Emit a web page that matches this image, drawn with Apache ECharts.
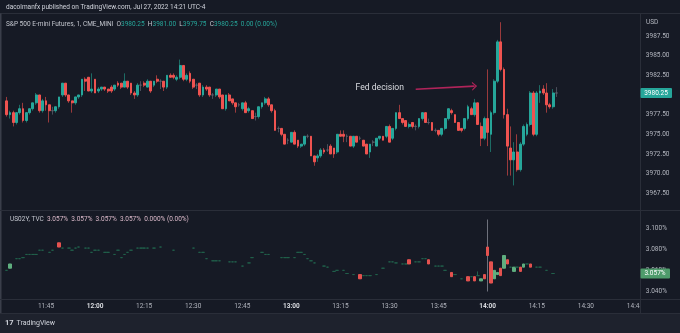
<!DOCTYPE html>
<html>
<head>
<meta charset="utf-8">
<script src="https://cdn.jsdelivr.net/npm/echarts@6/dist/echarts.min.js"></script>
<style>
  html, body { margin: 0; padding: 0; background: #161a25; }
  #chart { width: 680px; height: 333px; }
</style>
</head>
<body>
<div id="chart"></div>
<script>
// One-minute slots shown on the time axis (11:32 .. 14:46)
const startMinute = 11 * 60 + 32;
const slotCount = 195;
const firstBar = 1; // first ES bar is 11:33

// S&P 500 E-mini futures, 1-minute bars 11:33 .. 14:21
const esOpen = [
  3979.25,3977.5,3977.75,3976.5,3977.75,3978.25,3976.75,3977.75,3978.25,3979.0,
  3980.0,3978.0,3979.25,3978.75,3978.0,3978.0,3978.5,3980.0,3981.5,3980.0,
  3979.25,3979.0,3979.75,3980.0,3982.0,3982.25,3980.5,3982.0,3980.5,3980.75,
  3981.0,3980.75,3981.0,3980.75,3981.5,3981.5,3981.0,3981.75,3981.5,3980.25,
  3980.0,3981.25,3981.5,3981.0,3981.75,3981.25,3982.0,3981.75,3981.75,3981.0,
  3982.5,3982.5,3982.0,3982.25,3983.75,3982.0,3982.75,3982.0,3981.25,3981.5,
  3980.0,3981.0,3981.0,3980.0,3980.0,3980.75,3980.0,3978.25,3980.0,3979.5,
  3979.0,3978.75,3978.25,3979.0,3978.0,3978.0,3977.25,3977.25,3978.5,3979.0,
  3979.5,3978.75,3978.0,3975.75,3975.75,3975.0,3974.25,3974.0,3975.25,3974.25,
  3973.5,3973.75,3974.75,3974.75,3972.25,3972.0,3972.25,3973.0,3973.0,3973.5,
  3973.25,3972.75,3975.0,3975.0,3974.75,3974.75,3973.5,3974.75,3974.5,3974.25,
  3973.75,3972.75,3974.0,3973.5,3974.5,3974.75,3974.75,3976.0,3974.5,3975.75,
  3977.75,3977.0,3976.75,3976.0,3976.5,3976.0,3976.0,3977.0,3977.75,3976.5,
  3976.5,3975.5,3975.5,3975.0,3975.75,3977.0,3978.0,3977.5,3976.5,3975.75,
  3975.75,3977.0,3978.25,3977.5,3979.0,3976.0,3974.5,3977.0,3975.0,3977.75,
  3981.75,3986.75,3983.25,3977.5,3973.25,3971.75,3972.75,3970.5,3973.75,3975.0,
  3976.25,3980.25,3975.0,3980.25,3980.75,3980.25,3978.75,3978.5,3980.25
];
const esHigh = [
  3979.75,3978.0,3978.0,3977.75,3978.75,3979.0,3977.75,3978.25,3979.0,3980.25,
  3980.0,3979.5,3979.75,3978.75,3978.5,3978.5,3979.75,3981.5,3981.5,3980.0,
  3979.25,3979.75,3980.0,3982.0,3982.25,3982.25,3982.75,3982.0,3981.0,3981.0,
  3981.0,3980.75,3981.25,3981.25,3981.75,3981.5,3982.75,3981.75,3981.5,3980.5,
  3981.5,3981.75,3981.75,3982.0,3981.75,3981.75,3982.5,3982.0,3981.75,3982.5,
  3982.75,3982.75,3982.5,3984.5,3983.75,3982.75,3983.0,3982.0,3981.5,3981.5,
  3981.25,3981.25,3981.0,3980.25,3980.75,3980.75,3980.0,3980.0,3980.25,3979.5,
  3979.0,3979.0,3979.0,3979.25,3978.5,3978.0,3977.75,3978.5,3979.0,3979.75,
  3979.75,3978.75,3978.25,3976.0,3975.75,3975.0,3974.5,3975.25,3975.5,3974.25,
  3973.75,3974.75,3975.0,3974.75,3972.25,3972.5,3973.25,3973.25,3973.75,3973.75,
  3973.25,3975.0,3975.5,3975.5,3975.0,3974.75,3974.75,3974.75,3974.75,3974.25,
  3973.75,3973.75,3974.25,3974.5,3974.75,3974.75,3976.0,3976.25,3975.75,3977.75,
  3978.75,3977.0,3976.75,3976.5,3976.5,3976.25,3977.0,3977.75,3977.75,3977.0,
  3976.5,3975.75,3975.5,3975.75,3977.0,3978.25,3978.25,3977.5,3976.5,3975.75,
  3977.0,3978.75,3978.5,3979.5,3979.0,3976.5,3977.25,3983.25,3978.0,3982.0,
  3987.0,3989.25,3983.5,3978.25,3976.0,3974.0,3975.0,3974.0,3976.25,3976.5,
  3980.5,3980.5,3980.5,3981.25,3981.25,3981.5,3979.0,3980.75,3981.0
];
const esLow = [
  3977.25,3977.0,3976.0,3976.25,3977.5,3976.5,3976.5,3977.5,3978.0,3978.75,
  3977.75,3977.75,3978.0,3976.5,3977.5,3977.75,3978.25,3979.75,3979.75,3979.0,
  3977.75,3978.75,3979.5,3979.75,3980.5,3980.5,3980.25,3980.25,3980.25,3980.5,
  3980.5,3980.25,3980.25,3980.5,3981.0,3980.75,3981.0,3980.75,3980.0,3979.5,
  3979.75,3980.5,3981.0,3981.0,3980.25,3981.0,3981.5,3980.75,3980.5,3980.75,
  3982.25,3982.0,3981.75,3982.0,3981.75,3981.75,3981.5,3980.75,3980.75,3979.75,
  3979.75,3980.5,3979.75,3979.5,3979.75,3979.5,3978.25,3978.0,3979.25,3978.75,
  3977.75,3978.5,3978.0,3977.75,3977.75,3977.0,3976.75,3977.0,3978.25,3978.75,
  3978.5,3977.75,3975.5,3975.25,3974.75,3973.75,3973.75,3974.0,3973.75,3973.25,
  3973.25,3973.5,3974.5,3972.25,3971.0,3971.5,3972.0,3972.5,3972.75,3972.5,
  3972.0,3972.5,3974.75,3974.0,3974.0,3973.5,3973.25,3974.0,3974.25,3973.5,
  3972.5,3972.0,3973.5,3973.5,3974.25,3974.25,3974.5,3974.0,3974.25,3975.5,
  3977.0,3976.25,3976.0,3975.75,3975.75,3975.5,3975.75,3976.75,3976.5,3976.25,
  3975.5,3975.25,3974.75,3974.75,3975.5,3976.75,3977.5,3976.5,3975.5,3975.25,
  3975.5,3976.75,3977.5,3977.25,3976.25,3973.5,3974.25,3973.5,3972.75,3977.5,
  3981.5,3983.0,3977.0,3969.75,3969.75,3968.5,3970.25,3970.25,3973.5,3974.75,
  3976.0,3974.75,3974.75,3979.0,3980.0,3977.75,3978.25,3978.25,3979.75
];
const esClose = [
  3977.5,3977.75,3976.5,3977.75,3978.25,3976.75,3977.75,3978.25,3979.0,3980.0,
  3978.0,3979.25,3978.75,3978.0,3978.0,3978.5,3979.75,3981.5,3980.0,3979.25,
  3979.0,3979.75,3980.0,3982.0,3981.75,3980.5,3980.75,3980.25,3980.75,3981.0,
  3980.75,3980.5,3980.5,3981.25,3981.25,3981.0,3981.75,3981.0,3980.25,3980.0,
  3981.25,3981.25,3981.25,3981.75,3980.5,3981.75,3981.75,3981.75,3981.0,3982.5,
  3982.25,3982.25,3982.25,3983.75,3982.0,3982.5,3981.75,3981.0,3981.25,3980.0,
  3981.0,3980.75,3980.0,3980.0,3980.75,3979.75,3978.25,3980.0,3979.25,3979.0,
  3978.5,3978.75,3979.0,3977.75,3978.25,3977.0,3977.25,3978.5,3979.0,3979.5,
  3978.75,3978.0,3975.5,3975.75,3975.0,3973.75,3974.25,3975.25,3973.75,3973.5,
  3973.75,3974.75,3974.75,3972.25,3971.5,3972.25,3973.0,3972.75,3973.0,3972.5,
  3972.5,3975.0,3974.75,3974.75,3974.75,3973.5,3974.75,3974.0,3974.5,3973.5,
  3972.5,3973.75,3974.0,3974.5,3974.75,3974.25,3976.0,3974.0,3975.75,3977.75,
  3977.0,3976.5,3976.0,3976.25,3976.0,3976.0,3977.0,3977.75,3976.5,3976.5,
  3975.5,3975.5,3975.0,3975.75,3977.0,3978.25,3977.75,3976.5,3975.5,3975.5,
  3977.0,3978.5,3977.5,3979.0,3976.25,3974.5,3977.0,3975.25,3977.75,3981.75,
  3986.75,3983.25,3977.5,3973.5,3971.75,3972.75,3970.5,3973.75,3976.0,3976.25,
  3980.25,3975.0,3980.25,3980.5,3980.25,3978.75,3978.5,3980.25,3980.25
];

// US 2-year yield (%), 1-minute bars 11:33 .. 14:21, null where no trade
const ylOpen = [
  3.060,3.062,null,3.071,3.071,3.072,3.075,3.075,3.075,3.075,
  3.079,3.079,null,3.077,3.079,null,3.086,3.081,null,3.081,
  3.079,3.081,3.082,null,3.081,3.081,3.077,3.079,3.079,null,
  3.077,3.077,null,3.075,3.079,3.072,3.075,3.077,3.079,null,
  3.081,3.081,3.081,3.081,null,3.081,null,3.082,null,null,
  null,3.079,null,null,null,null,null,3.081,null,3.077,
  3.077,3.071,null,3.069,3.069,3.069,null,null,3.068,3.068,
  3.068,null,3.064,null,3.067,3.072,null,null,3.077,3.075,
  3.075,null,null,null,3.072,3.072,3.072,null,3.072,3.077,
  3.077,3.075,3.071,3.069,3.067,null,null,3.064,3.063,null,
  3.059,3.060,null,3.060,3.057,null,3.056,null,3.056,3.055,
  3.055,3.055,null,3.056,null,3.062,null,3.068,3.068,3.067,
  null,3.066,3.066,3.070,null,3.068,3.068,3.071,3.071,3.070,
  null,3.064,3.064,3.064,3.060,null,3.058,3.056,null,3.052,
  null,3.054,3.054,3.054,3.055,3.050,3.056,3.082,3.068,3.052,
  3.056,3.062,3.062,3.070,3.063,3.059,3.063,3.063,3.063,3.066,
  3.066,null,3.063,3.063,null,3.060,null,3.057,null
];
const ylHigh = [
  3.060,3.066,null,3.071,3.071,3.072,3.075,3.075,3.075,3.075,
  3.079,3.079,null,3.077,3.079,null,3.086,3.081,null,3.081,
  3.079,3.081,3.082,null,3.081,3.081,3.077,3.079,3.079,null,
  3.077,3.077,null,3.075,3.079,3.072,3.075,3.077,3.079,null,
  3.081,3.081,3.081,3.081,null,3.081,null,3.082,null,null,
  null,3.079,null,null,null,null,null,3.081,null,3.077,
  3.077,3.071,null,3.069,3.069,3.069,null,null,3.068,3.068,
  3.068,null,3.064,null,3.067,3.072,null,null,3.077,3.075,
  3.075,null,null,null,3.072,3.072,3.072,null,3.072,3.077,
  3.077,3.075,3.071,3.069,3.067,null,null,3.064,3.063,null,
  3.059,3.060,null,3.060,3.057,null,3.056,null,3.056,3.055,
  3.055,3.055,null,3.056,null,3.062,null,3.068,3.068,3.067,
  null,3.066,3.066,3.070,null,3.068,3.068,3.071,3.071,3.070,
  null,3.064,3.064,3.064,3.060,null,3.058,3.056,null,3.052,
  null,3.054,3.054,3.054,3.059,3.052,3.056,3.108,3.068,3.060,
  3.058,3.062,3.074,3.070,3.063,3.063,3.063,3.063,3.066,3.066,
  3.066,null,3.063,3.063,null,3.060,null,3.057,null
];
const ylLow = [
  3.060,3.062,null,3.071,3.071,3.072,3.075,3.075,3.075,3.075,
  3.079,3.079,null,3.077,3.079,null,3.082,3.081,null,3.081,
  3.079,3.081,3.082,null,3.081,3.081,3.077,3.079,3.079,null,
  3.077,3.077,null,3.075,3.079,3.072,3.075,3.077,3.079,null,
  3.081,3.081,3.081,3.081,null,3.081,null,3.082,null,null,
  null,3.079,null,null,null,null,null,3.081,null,3.077,
  3.077,3.071,null,3.069,3.069,3.069,null,null,3.068,3.068,
  3.068,null,3.064,null,3.067,3.072,null,null,3.077,3.075,
  3.075,null,null,null,3.072,3.072,3.072,null,3.072,3.077,
  3.077,3.075,3.071,3.069,3.067,null,null,3.064,3.063,null,
  3.059,3.060,null,3.060,3.057,null,3.056,null,3.052,3.055,
  3.055,3.055,null,3.056,null,3.062,null,3.068,3.068,3.067,
  null,3.066,3.066,3.066,null,3.068,3.068,3.071,3.071,3.066,
  null,3.064,3.064,3.064,3.060,null,3.054,3.056,null,3.052,
  null,3.050,3.054,3.050,3.055,3.050,3.052,3.040,3.048,3.052,
  3.056,3.055,3.062,3.066,3.063,3.059,3.063,3.059,3.063,3.066,
  3.063,null,3.063,3.063,null,3.060,null,3.057,null
];
const ylClose = [
  3.060,3.066,null,3.071,3.071,3.072,3.075,3.075,3.075,3.075,
  3.079,3.079,null,3.077,3.079,null,3.082,3.081,null,3.081,
  3.079,3.081,3.082,null,3.081,3.081,3.077,3.079,3.079,null,
  3.077,3.077,null,3.075,3.079,3.072,3.075,3.077,3.079,null,
  3.081,3.081,3.081,3.081,null,3.081,null,3.082,null,null,
  null,3.079,null,null,null,null,null,3.081,null,3.077,
  3.077,3.071,null,3.069,3.069,3.069,null,null,3.068,3.068,
  3.068,null,3.064,null,3.067,3.072,null,null,3.077,3.075,
  3.075,null,null,null,3.072,3.072,3.072,null,3.072,3.077,
  3.077,3.075,3.071,3.069,3.067,null,null,3.064,3.063,null,
  3.059,3.060,null,3.060,3.057,null,3.056,null,3.052,3.055,
  3.055,3.055,null,3.056,null,3.062,null,3.068,3.068,3.067,
  null,3.066,3.066,3.066,null,3.068,3.068,3.071,3.071,3.066,
  null,3.064,3.064,3.064,3.060,null,3.054,3.056,null,3.052,
  null,3.050,3.054,3.050,3.055,3.052,3.052,3.074,3.048,3.060,
  3.058,3.055,3.074,3.066,3.063,3.063,3.063,3.059,3.066,3.066,
  3.063,null,3.063,3.063,null,3.060,null,3.057,null
];

// Price-axis and time-axis styling
const priceTicks = { min: 3965, max: 3990, step: 2.5 };
const yieldTicks = { min: 3.03, max: 3.12, step: 0.01 };

const BG = '#161a25';
const LINE = '#2a2e39';
const TEXT = '#b2b5be';
const UP = '#26a69a', DOWN = '#ef5350';
const UP_WICK = '#1d6b64', DOWN_WICK = '#9a3a3c';
const Y_UP = '#5fae7f', Y_DOWN = '#e4524f', Y_FLAT = '#21604b';

const categories = [];
for (let i = 0; i < slotCount; i++) {
  const m = startMinute + i;
  categories.push(String(Math.floor(m / 60)).padStart(2, '0') + ':' + String(m % 60).padStart(2, '0'));
}

const EMPTY = ['-', '-', '-', '-'];
function build(open, high, low, close, bodyOnly) {
  return categories.map((c, i) => {
    const j = i - firstBar;
    if (j < 0 || j >= open.length || open[j] == null) return EMPTY;
    const o = open[j], cl = close[j];
    if (bodyOnly) return [o, cl, Math.min(o, cl), Math.max(o, cl)];
    return [o, cl, low[j], high[j]];
  });
}

const mainWick = build(esOpen, esHigh, esLow, esClose, false);
const mainBody = build(esOpen, esHigh, esLow, esClose, true);
const yWick = build(ylOpen, ylHigh, ylLow, ylClose, false);
const yBody = build(ylOpen, ylHigh, ylLow, ylClose, true);

const lastIdx = esClose.length - 1;
const fmt2 = v => v.toFixed(2);
let lastYield = null;
for (let j = ylClose.length - 1; j >= 0; j--) { if (ylClose[j] != null) { lastYield = ylClose[j]; break; } }

const gridLeft = 1.8, gridWidth = 638.04;

const chart = echarts.init(document.getElementById('chart'), null, { renderer: 'canvas' });

const option = {
  backgroundColor: BG,
  animation: false,
  textStyle: { fontFamily: 'Roboto, "Noto Sans", sans-serif' },
  grid: [
    { left: gridLeft, width: gridWidth, top: 16.3, height: 196.66 },
    { left: gridLeft, width: gridWidth, top: 206.8, height: 95.3 }
  ],
  xAxis: [
    {
      type: 'category', data: categories, gridIndex: 0, boundaryGap: true,
      axisLine: { show: false }, axisTick: { show: false }, axisLabel: { show: false },
      splitLine: { show: false }
    },
    {
      type: 'category', data: categories, gridIndex: 1, boundaryGap: true,
      axisLine: { show: false }, axisTick: { show: false },
      axisLabel: {
        show: true, color: TEXT, fontSize: 6.5, margin: 4, verticalAlign: 'middle',
        interval: (idx, val) => parseInt(val.slice(3), 10) % 15 === 0,
        formatter: val => val.endsWith(':00') ? '{b|' + val + '}' : val,
        rich: { b: { fontWeight: 'bold', color: '#d9dbe0', fontSize: 6.5 } }
      },
      splitLine: { show: false }
    }
  ],
  yAxis: [
    {
      type: 'value', gridIndex: 0, position: 'right', scale: true,
      min: priceTicks.min, max: priceTicks.max, interval: priceTicks.step,
      axisLine: { show: false }, axisTick: { show: false }, splitLine: { show: false },
      axisLabel: {
        color: TEXT, fontSize: 6.5, margin: 6,
        formatter: v => (v <= priceTicks.min || v >= priceTicks.max) ? '' : v.toFixed(2)
      }
    },
    {
      type: 'value', gridIndex: 1, position: 'right', scale: true,
      min: yieldTicks.min, max: yieldTicks.max, interval: yieldTicks.step,
      axisLine: { show: false }, axisTick: { show: false }, splitLine: { show: false },
      axisLabel: {
        color: TEXT, fontSize: 6.5, margin: 6,
        formatter: v => {
          const t = Math.round(v * 1000);
          return (t % 20 === 0 && t >= 3040 && t <= 3100) ? (t / 1000).toFixed(3) + '%' : '';
        }
      }
    }
  ],
  series: [
    {
      name: 'ES wicks', type: 'candlestick', xAxisIndex: 0, yAxisIndex: 0,
      data: mainWick, barWidth: 1,
      itemStyle: { color: UP_WICK, color0: DOWN_WICK, borderColor: UP_WICK, borderColor0: DOWN_WICK, borderColorDoji: '#4a4e5a', borderWidth: 1 }
    },
    {
      name: 'ES', type: 'candlestick', xAxisIndex: 0, yAxisIndex: 0,
      data: mainBody, barWidth: '70%',
      itemStyle: { color: UP, color0: DOWN, borderColor: UP, borderColor0: DOWN, borderColorDoji: '#5b5f6b', borderWidth: 1 },
      markPoint: {
        silent: true, symbol: 'circle', symbolSize: 0,
        data: [{ coord: ['13:27', 3980.85], label: { show: true, position: 'inside', formatter: 'Fed decision', color: '#d9dbe0', fontSize: 8.6 } }]
      },
      markLine: {
        silent: true,
        symbol: ['none', 'path://M0,10 L5,0 L10,10 L8.4,10 L5,3.2 L1.6,10 Z'],
        symbolSize: [9, 5],
        lineStyle: { color: '#b0245a', width: 1.6, type: 'solid' },
        label: { show: false },
        data: [[{ coord: ['13:38', 3980.72] }, { coord: ['13:56', 3981.12] }]]
      }
    },
    {
      name: 'US02Y wicks', type: 'candlestick', xAxisIndex: 1, yAxisIndex: 1,
      data: yWick, barWidth: 1,
      itemStyle: { color: '#6e717c', color0: '#6e717c', borderColor: '#6e717c', borderColor0: '#6e717c', borderColorDoji: Y_FLAT, borderWidth: 1 }
    },
    {
      name: 'US02Y', type: 'candlestick', xAxisIndex: 1, yAxisIndex: 1,
      data: yBody, barWidth: '88%',
      itemStyle: { color: Y_UP, color0: Y_DOWN, borderColor: Y_UP, borderColor0: Y_DOWN, borderColorDoji: Y_FLAT, borderWidth: 1 }
    }
  ]
};

chart.setOption(option);

const yLast = chart.convertToPixel({ yAxisIndex: 0 }, esClose[lastIdx]);
const yLastYield = chart.convertToPixel({ yAxisIndex: 1 }, lastYield);
const chg = esClose[lastIdx] - esOpen[lastIdx];
const yStr = lastYield.toFixed(3) + '%';

chart.setOption({
  graphic: [
    // frame and pane separators
    { type: 'line', z: 50, shape: { x1: 0, y1: 13.5, x2: 680, y2: 13.5 }, style: { stroke: LINE, lineWidth: 1 } },
    { type: 'line', z: 50, shape: { x1: 0.75, y1: 13.5, x2: 0.75, y2: 313.5 }, style: { stroke: '#3a3e4a', lineWidth: 1.5 } },
    { type: 'line', z: 50, shape: { x1: 0, y1: 210.5, x2: 680, y2: 210.5 }, style: { stroke: LINE, lineWidth: 1 } },
    { type: 'line', z: 50, shape: { x1: 0, y1: 299.5, x2: 680, y2: 299.5 }, style: { stroke: LINE, lineWidth: 1 } },
    { type: 'rect', z: 60, shape: { x: 640.5, y: 300, width: 40, height: 13 }, style: { fill: BG } },
    { type: 'line', z: 61, shape: { x1: 640.5, y1: 13.5, x2: 640.5, y2: 313.5 }, style: { stroke: LINE, lineWidth: 1 } },
    { type: 'rect', z: 60, shape: { x: 0, y: 313.5, width: 680, height: 20 }, style: { fill: '#1e222d' } },
    { type: 'line', z: 61, shape: { x1: 0, y1: 313.5, x2: 680, y2: 313.5 }, style: { stroke: LINE, lineWidth: 1 } },

    // header lines
    { type: 'text', z: 70, x: 6, y: 7.5, style: { text: 'dacolmanfx published on TradingView.com, Jul 27, 2022 14:21 UTC-4', fill: '#d1d4dc', font: '6.5px Roboto, sans-serif', verticalAlign: 'middle' } },
    { type: 'text', z: 70, x: 6, y: 24, style: {
      text: '{n|S&P 500 E-mini Futures, 1, CME_MINI}  {l|O}{v|' + fmt2(esOpen[lastIdx]) + '}  {l|H}{v|' + fmt2(esHigh[lastIdx]) + '}  {l|L}{v|' + fmt2(esLow[lastIdx]) + '}  {l|C}{v|' + fmt2(esClose[lastIdx]) + '}  {v|' + fmt2(chg) + ' (' + (chg / esOpen[lastIdx] * 100).toFixed(2) + '%)}',
      verticalAlign: 'middle', font: '6.5px Roboto, sans-serif',
      rich: {
        n: { fill: '#c3c6ce', font: '6.5px Roboto, sans-serif' },
        l: { fill: '#c3c6ce', font: '6.5px Roboto, sans-serif' },
        v: { fill: UP, font: '6.5px Roboto, sans-serif' }
      }
    } },
    { type: 'text', z: 70, x: 646, y: 22, style: { text: 'USD', fill: TEXT, font: '6.5px Roboto, sans-serif', verticalAlign: 'middle' } },
    { type: 'text', z: 70, x: 10, y: 219, style: {
      text: '{n|US02Y, TVC}  {v|' + yStr + '}  {v|' + yStr + '}  {v|' + yStr + '}  {v|' + yStr + '}  {v|0.000% (0.00%)}',
      verticalAlign: 'middle', font: '6.5px Roboto, sans-serif',
      rich: {
        n: { fill: '#c3c6ce', font: '6.5px Roboto, sans-serif' },
        v: { fill: '#d9b8c8', font: '6.5px Roboto, sans-serif' }
      }
    } },

    // last-value tags on the price scales
    { type: 'rect', z: 70, shape: { x: 640.5, y: yLast - 5, width: 31.5, height: 10, r: 1 }, style: { fill: UP } },
    { type: 'text', z: 71, x: 656, y: yLast, style: { text: fmt2(esClose[lastIdx]), fill: '#ffffff', font: '6.5px Roboto, sans-serif', align: 'center', verticalAlign: 'middle' } },
    { type: 'rect', z: 70, shape: { x: 640.5, y: yLastYield - 5, width: 29.5, height: 10, r: 1 }, style: { fill: '#4e9b6b' } },
    { type: 'text', z: 71, x: 655, y: yLastYield, style: { text: yStr, fill: '#ffffff', font: '6.5px Roboto, sans-serif', align: 'center', verticalAlign: 'middle' } },

    // footer brand
    { type: 'text', z: 70, x: 5, y: 323.5, style: { text: '17', fill: '#d1d4dc', font: 'bold 7.5px Roboto, sans-serif', verticalAlign: 'middle' } },
    { type: 'text', z: 70, x: 16.5, y: 323.5, style: { text: 'TradingView', fill: '#d1d4dc', font: '7px Roboto, sans-serif', verticalAlign: 'middle' } }
  ]
});
</script>
</body>
</html>
